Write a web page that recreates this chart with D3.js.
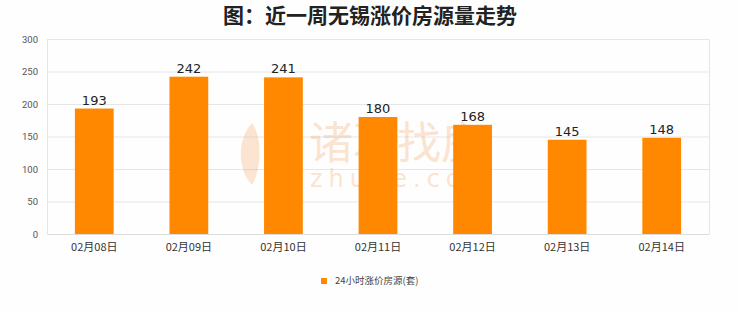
<!DOCTYPE html>
<html>
<head>
<meta charset="utf-8">
<script src="https://cdn.jsdelivr.net/npm/d3@7/dist/d3.min.js"></script>
<style>
  body { margin: 0; background: #fff; }
  svg { display: block; }
</style>
</head>
<body>
<div id="chartDiv"></div>
<script>
// data
const categories = ["02月08日", "02月09日", "02月10日", "02月11日", "02月12日", "02月13日", "02月14日"];
const values = [193, 242, 241, 180, 168, 145, 148];
const yTicks = [0, 50, 100, 150, 200, 250, 300];
const seriesName = "24小时涨价房源(套)";
const title = "图：近一周无锡涨价房源量走势";

const W = 740, H = 312;
const margin = { top: 39, right: 31, bottom: 78, left: 47 },
    width = W - margin.left - margin.right,
    height = H - margin.top - margin.bottom;

const svg = d3.select("#chartDiv")
    .append("svg")
    .attr("width", W)
    .attr("height", H);

svg.append("rect").attr("width", W).attr("height", H).attr("fill", "#fefefe");

// title
svg.append("text")
    .attr("x", W / 2)
    .attr("y", 23)
    .attr("text-anchor", "middle")
    .style("font-family", "'Noto Sans CJK SC', sans-serif")
    .style("font-size", "21px")
    .style("font-weight", "bold")
    .style("fill", "#222")
    .text(title);

const g = svg.append("g")
    .attr("transform", "translate(" + margin.left + "," + margin.top + ")");

const x = d3.scaleBand().domain(categories).range([0, width]).paddingInner(0.59).paddingOuter(0.295);
const y = d3.scaleLinear().domain([0, 300]).range([height, 0]);

// grid
g.selectAll("line.grid")
    .data(yTicks)
    .enter()
    .append("line")
    .attr("x1", 0).attr("x2", width)
    .attr("y1", d => y(d) + 0.5).attr("y2", d => y(d) + 0.5)
    .style("stroke", "#e6e6e6");

g.append("line")
    .attr("x1", width + 0.5).attr("x2", width + 0.5)
    .attr("y1", 0).attr("y2", height)
    .style("stroke", "#e6e6e6");
g.append("line")
    .attr("x1", 0.5).attr("x2", 0.5)
    .attr("y1", 0).attr("y2", height)
    .style("stroke", "#e6e6e6");

// watermark (faint logo behind bars)
const wm = g.append("g").style("opacity", 0.22).style("fill", "#f08a30");
wm.append("text")
    .attr("x", 262).attr("y", 120)
    .style("font-family", "'Noto Sans CJK SC', sans-serif")
    .style("font-size", "44px")
    .text("诸葛找房");
wm.append("text")
    .attr("x", 263).attr("y", 148)
    .style("font-family", "'DejaVu Sans', sans-serif")
    .style("font-size", "24px")
    .style("letter-spacing", "6px")
    .text("zhuge.com");
wm.append("path")
    .attr("d", "M205,84 C190,100 190,130 205,146 C214,130 216,100 205,84 Z");

// bars
g.selectAll("rect.bar")
    .data(values)
    .enter()
    .append("rect")
    .attr("x", (d, i) => x(categories[i]))
    .attr("y", d => y(d))
    .attr("width", x.bandwidth())
    .attr("height", d => height - y(d))
    .style("fill", "#ff8800");

// value labels
g.selectAll("text.val")
    .data(values)
    .enter()
    .append("text")
    .attr("x", (d, i) => x(categories[i]) + x.bandwidth() / 2)
    .attr("y", d => y(d) - 4)
    .attr("text-anchor", "middle")
    .style("font-family", "'DejaVu Sans', sans-serif")
    .style("font-size", "13px")
    .style("fill", "#222")
    .text(d => d);

// y axis labels
const yAxis = g.append("g")
    .call(d3.axisLeft(y).tickValues(yTicks).tickSize(0).tickPadding(9));
yAxis.select(".domain").remove();
yAxis.selectAll("text")
    .style("font-family", "Roboto, sans-serif")
    .style("font-size", "9.5px")
    .style("fill", "#555");

// x axis
const xAxis = g.append("g")
    .attr("transform", "translate(0," + height + ")")
    .call(d3.axisBottom(x).tickSize(0).tickPadding(9));
xAxis.select(".domain").style("stroke", "#ddd");
xAxis.selectAll("text")
    .style("font-family", "'Noto Sans CJK SC', serif")
    .style("font-size", "11px")
    .style("fill", "#333");

// legend
const lg = svg.append("g").attr("transform", "translate(321,278)");
lg.append("rect").attr("width", 6).attr("height", 6).style("fill", "#ff8800");
lg.append("text")
    .attr("x", 14).attr("y", 6)
    .style("font-family", "'Noto Sans CJK SC', sans-serif")
    .style("font-size", "9.5px")
    .style("fill", "#444")
    .text(seriesName);
</script>
</body>
</html>
